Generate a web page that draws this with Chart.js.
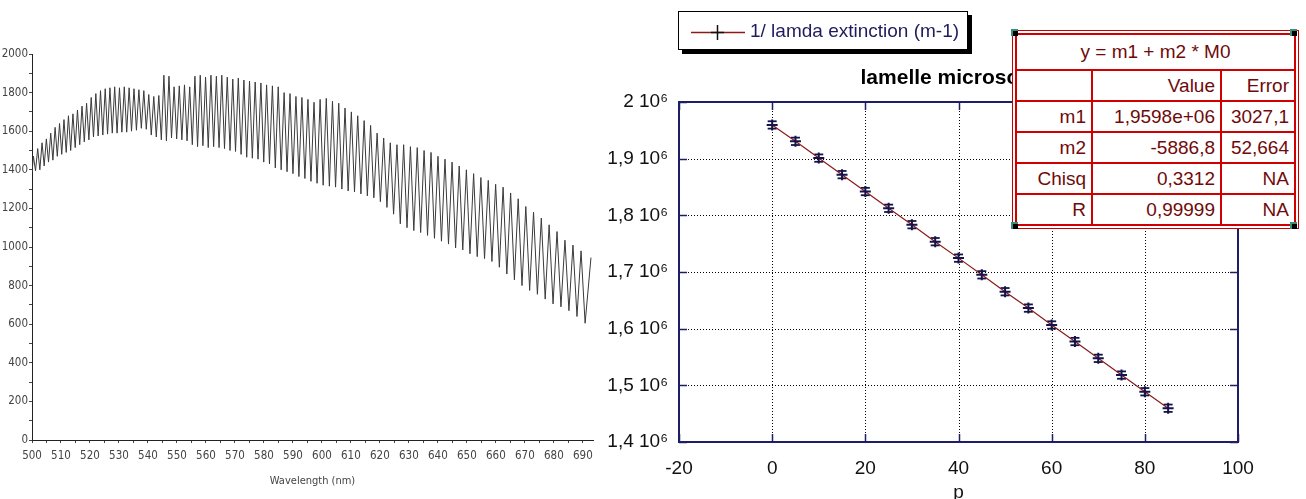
<!DOCTYPE html>
<html>
<head>
<meta charset="utf-8">
<title>Spectrum and extinction fit</title>
<script src="https://cdn.jsdelivr.net/npm/chart.js@4.4.1/dist/chart.umd.min.js"></script>
<style>
    html, body { margin: 0; padding: 0; background: #fff; overflow: hidden; width: 1306px; height: 499px; }
    #leftWrap { position: absolute; left: 0; top: 0; width: 600px; height: 499px; }
    #rightWrap { position: absolute; left: 600px; top: 0; width: 706px; height: 520px; }
    #legend {
        position: absolute; left: 678px; top: 11px; width: 290px; height: 39px;
        border: 1px solid #000; background: #fff; box-shadow: 4px 4px 0 #000;
        font: 19px "Liberation Sans", Arial, sans-serif; color: #1c1c5e;
        box-sizing: border-box; white-space: nowrap;
    }
    #legend svg { position: absolute; left: 12px; top: 12px; }
    #legend span { position: absolute; left: 71px; top: 8px; }
    #plotTitle {
        position: absolute; left: 758px; width: 400px; top: 65px; text-align: center;
        font: bold 21px "Liberation Sans", Arial, sans-serif; color: #000;
    }
    #fitBox {
        position: absolute; left: 1012px; top: 30px; padding: 2px;
        border: 1px solid #c40000; background: #fff;
    }
    #fitBox table {
        border-collapse: collapse; border: 2px solid #d00000;
        font: 19px "Liberation Sans", Arial, sans-serif; color: #700a0a;
    }
    #fitBox td { border: 2px solid #d00000; text-align: right; padding: 0 5px; height: 29px; }
    #fitBox td.head { text-align: center; height: 34px; }
    .handle { position: absolute; width: 7px; height: 7px; background: #000; border-top: 2px solid #3a8f7a; border-left: 2px solid #3a8f7a; box-sizing: border-box; }
</style>
</head>
<body>
<div id="leftWrap"><canvas id="spectrumChart" width="600" height="499"></canvas></div>
<div id="rightWrap"><canvas id="fitChart" width="706" height="520"></canvas></div>

<div id="plotTitle">lamelle microscope</div>

<div id="legend">
    <svg width="56" height="16">
        <line x1="0" y1="8.5" x2="54" y2="8.5" stroke="#8b1a1a" stroke-width="1.5"/>
        <line x1="26.5" y1="1" x2="26.5" y2="16" stroke="#111" stroke-width="1.5"/>
        <line x1="20" y1="8.5" x2="33" y2="8.5" stroke="#111" stroke-width="1.5"/>
    </svg>
    <span>1/ lamda extinction (m-1)</span>
</div>

<div id="fitBox">
    <table>
        <tr><td class="head" colspan="3">y = m1 + m2 * M0</td></tr>
        <tr><td style="width:64px"></td><td style="width:117px">Value</td><td style="width:62px">Error</td></tr>
        <tr><td>m1</td><td>1,9598e+06</td><td>3027,1</td></tr>
        <tr><td>m2</td><td>-5886,8</td><td>52,664</td></tr>
        <tr><td>Chisq</td><td>0,3312</td><td>NA</td></tr>
        <tr><td>R</td><td>0,99999</td><td>NA</td></tr>
    </table>
</div>
<div class="handle" style="left:1011px; top:29px"></div>
<div class="handle" style="left:1290px; top:29px"></div>
<div class="handle" style="left:1011px; top:222px"></div>
<div class="handle" style="left:1290px; top:222px"></div>

<script>
/* ---------- left: transmission spectrum (fringes) ---------- */

// wavelength (nm) of each fringe minimum and the counts read there
const troughNm = [
    500.00, 501.22, 502.71, 504.20, 505.70, 507.21, 508.73, 510.26, 511.80, 513.34,
    514.90, 516.46, 518.04, 519.62, 521.21, 522.82, 524.43, 526.06, 527.69, 529.34,
    531.00, 532.66, 534.33, 536.02, 537.71, 539.42, 541.14, 542.87, 544.61, 546.36,
    548.12, 549.90, 551.69, 553.48, 555.29, 557.11, 558.95, 560.79, 562.65, 564.52,
    566.40, 568.30, 570.20, 572.12, 574.06, 576.00, 577.96, 579.93, 581.91, 583.92,
    585.94, 587.97, 590.01, 592.06, 594.13, 596.22, 598.32, 600.43, 602.57, 604.71,
    606.88, 609.05, 611.24, 613.45, 615.67, 617.91, 620.16, 622.43, 624.72, 627.03,
    629.35, 631.70, 634.05, 636.43, 638.82, 641.23, 643.66, 646.11, 648.58, 651.06,
    653.57, 656.09, 658.64, 661.20, 663.78, 666.39, 669.01, 671.65, 674.32, 677.01,
    679.72, 682.45, 685.20, 687.98, 690.78
];
const troughCounts = [
    1385, 1395, 1400, 1420, 1440, 1450, 1470, 1480, 1490, 1500,
    1515, 1530, 1545, 1555, 1570, 1575, 1580, 1585, 1590, 1590,
    1595, 1595, 1600, 1605, 1615, 1610, 1580, 1570, 1555, 1550,
    1565, 1560, 1555, 1550, 1530, 1520, 1525, 1515, 1520, 1515,
    1510, 1500, 1495, 1480, 1465, 1460, 1455, 1440, 1430, 1410,
    1400, 1390, 1380, 1365, 1355, 1340, 1330, 1320, 1315, 1310,
    1300, 1290, 1285, 1275, 1265, 1255, 1235, 1205, 1170, 1120,
    1100, 1085, 1075, 1060, 1045, 1030, 1015, 995, 985, 965,
    950, 940, 925, 895, 860, 830, 800, 775, 755, 730,
    705, 690, 670, 640, 605
];

// fringe maxima (last entry is where the record stops)
const peakNm = [
    500.49, 501.97, 503.46, 504.95, 506.46, 507.97, 509.50, 511.03, 512.57, 514.12,
    515.68, 517.25, 518.83, 520.42, 522.02, 523.63, 525.25, 526.88, 528.52, 530.17,
    531.83, 533.50, 535.18, 536.87, 538.57, 540.28, 542.01, 543.74, 545.49, 547.24,
    549.01, 550.80, 552.59, 554.39, 556.20, 558.03, 559.87, 561.72, 563.59, 565.46,
    567.35, 569.25, 571.16, 573.09, 575.03, 576.98, 578.95, 580.92, 582.92, 584.93,
    586.96, 588.99, 591.04, 593.10, 595.18, 597.27, 599.38, 601.50, 603.64, 605.80,
    607.97, 610.15, 612.35, 614.56, 616.79, 619.04, 621.30, 623.58, 625.88, 628.19,
    630.53, 632.88, 635.24, 637.63, 640.03, 642.45, 644.89, 647.35, 649.82, 652.32,
    654.83, 657.37, 659.92, 662.49, 665.09, 667.70, 670.33, 672.99, 675.67, 678.37,
    681.09, 683.83, 686.59, 689.38, 692.80
];
const peakCounts = [
    1470, 1510, 1540, 1560, 1590, 1620, 1640, 1660, 1680, 1690,
    1710, 1730, 1745, 1775, 1795, 1810, 1820, 1825, 1830, 1825,
    1830, 1825, 1820, 1815, 1810, 1790, 1780, 1785, 1890, 1885,
    1830, 1835, 1840, 1830, 1885, 1890, 1880, 1890, 1885, 1890,
    1880, 1870, 1875, 1865, 1860, 1855, 1850, 1840, 1835, 1830,
    1800, 1795, 1780, 1775, 1765, 1750, 1765, 1770, 1755, 1745,
    1720, 1700, 1680, 1655, 1630, 1590, 1565, 1540, 1530, 1530,
    1520, 1515, 1500, 1490, 1470, 1455, 1440, 1420, 1400, 1380,
    1360, 1345, 1325, 1310, 1280, 1250, 1210, 1180, 1150, 1115,
    1080, 1035, 1010, 980, 945
];

/* ---------- right: 1/lambda at extinction vs order p ---------- */
const orderP = [0, 5, 10, 15, 20, 25, 30, 35, 40, 45, 50, 55, 60, 65, 70, 75, 80, 85];
const invLambda = [
    1959500, 1930600, 1901000, 1871800, 1842000, 1812400, 1783500, 1753500, 1724500,
    1695000, 1665200, 1636300, 1606500, 1577300, 1547600, 1518100, 1488700, 1459600
];
const invLambdaErr = [
    6500, 6500, 6500, 6500, 6500, 6500, 6500, 6500, 6500,
    6500, 6500, 6500, 6500, 6500, 6500, 6500, 6500, 6500
];

const narrowFont = '"Liberation Sans Narrow", "DejaVu Sans Condensed", "Arial Narrow", sans-serif';
const plainFont = '"Liberation Sans", Arial, sans-serif';

// interleave minima and maxima into one trace
function buildSpectrum() {
    const pts = [];
    troughNm.forEach((nm, i) => {
        pts.push({ x: nm, y: troughCounts[i] });
        if (i < peakNm.length) pts.push({ x: peakNm[i], y: peakCounts[i] });
    });
    return pts;
}

new Chart(document.getElementById('spectrumChart'), {
    type: 'line',
    data: {
        datasets: [{
            data: buildSpectrum(),
            borderColor: '#3a3a3a',
            borderWidth: 1,
            pointRadius: 0,
            tension: 0
        }]
    },
    options: {
        responsive: false,
        animation: false,
        layout: { padding: { left: 0, right: 7, top: 54, bottom: 0 } },
        plugins: { legend: { display: false }, tooltip: { enabled: false } },
        scales: {
            x: {
                type: 'linear',
                min: 500,
                max: 693.5,
                afterBuildTicks: (s) => { s.ticks = s.ticks.filter(t => t.value % 5 === 0); },
                afterFit: (s) => { s.height = 59; },
                ticks: {
                    stepSize: 5, autoSkip: false, includeBounds: false, maxRotation: 0, padding: 6,
                    color: '#444', font: { family: narrowFont, size: 11.5 },
                    callback: (v) => (v % 10 === 0 ? String(v) : '')
                },
                grid: { drawOnChartArea: false, tickLength: 3, color: '#444' },
                border: { color: '#222' },
                title: {
                    display: true, text: 'Wavelength (nm)', color: '#444',
                    font: { family: narrowFont, size: 11 }, padding: { top: 0, bottom: 11 }
                }
            },
            y: {
                min: 0,
                max: 2000,
                afterFit: (s) => { s.width = 32; },
                ticks: {
                    stepSize: 100, autoSkip: false, padding: 1,
                    color: '#444', font: { family: narrowFont, size: 11.5 },
                    callback: (v) => (v % 200 === 0 ? String(v) : '')
                },
                grid: { drawOnChartArea: false, tickLength: 3, color: '#444' },
                border: { color: '#222' }
            }
        }
    }
});

// dotted grid, inward ticks and frame for the fit plot
const frameGrid = {
    id: 'frameGrid',
    beforeDatasetsDraw(chart) {
        const { ctx, chartArea: a, scales: { x, y } } = chart;
        const seg = (x1, y1, x2, y2) => { ctx.beginPath(); ctx.moveTo(x1, y1); ctx.lineTo(x2, y2); ctx.stroke(); };
        ctx.save();
        ctx.lineWidth = 1;
        ctx.strokeStyle = '#000';
        ctx.setLineDash([1, 2]);
        x.ticks.forEach(t => {
            if (t.value <= x.min || t.value >= x.max) return;
            const px = Math.round(x.getPixelForValue(t.value)) + 0.5;
            seg(px, a.top, px, a.bottom);
        });
        y.ticks.forEach(t => {
            if (t.value <= y.min || t.value >= y.max) return;
            const py = Math.round(y.getPixelForValue(t.value)) + 0.5;
            seg(a.left, py, a.right, py);
        });
        ctx.setLineDash([]);
        ctx.strokeStyle = '#1e1e66';
        ctx.lineWidth = 1.5;
        x.ticks.forEach(t => {
            const px = Math.round(x.getPixelForValue(t.value)) + 0.5;
            seg(px, a.bottom, px, a.bottom - 8);
            seg(px, a.top, px, a.top + 8);
        });
        y.ticks.forEach(t => {
            const py = Math.round(y.getPixelForValue(t.value)) + 0.5;
            seg(a.left, py, a.left + 8, py);
            seg(a.right, py, a.right - 8, py);
        });
        ctx.lineWidth = 2;
        ctx.strokeRect(a.left, a.top, a.right - a.left, a.bottom - a.top);
        ctx.restore();
    }
};

new Chart(document.getElementById('fitChart'), {
    type: 'line',
    data: {
        labels: orderP,
        datasets: [{
            label: '1/ lamda extinction (m-1)',
            data: orderP.map((p, i) => ({ x: p, y: invLambda[i] })),
            borderColor: '#8b1a1a',
            borderWidth: 1.2,
            pointStyle: 'cross',
            pointRadius: 5.5,
            pointBorderWidth: 2,
            pointBorderColor: '#14144a',
            tension: 0
        }, {
            label: 'err+',
            data: orderP.map((p, i) => ({ x: p, y: invLambda[i] + invLambdaErr[i] })),
            showLine: false,
            pointStyle: 'line',
            pointRadius: 4.5,
            pointBorderWidth: 1.8,
            pointBorderColor: '#14144a'
        }, {
            label: 'err-',
            data: orderP.map((p, i) => ({ x: p, y: invLambda[i] - invLambdaErr[i] })),
            showLine: false,
            pointStyle: 'line',
            pointRadius: 4.5,
            pointBorderWidth: 1.8,
            pointBorderColor: '#14144a'
        }]
    },
    options: {
        responsive: false,
        animation: false,
        layout: { padding: { left: 0, right: 68, top: 102, bottom: 0 } },
        plugins: { legend: { display: false }, tooltip: { enabled: false } },
        scales: {
            x: {
                type: 'linear',
                min: -20,
                max: 100,
                afterFit: (s) => { s.height = 78; },
                ticks: {
                    stepSize: 20, maxRotation: 0, padding: 15,
                    color: '#111', font: { family: plainFont, size: 19 }
                },
                grid: { display: false, drawTicks: false },
                border: { display: false },
                title: {
                    display: true, text: 'p', color: '#111',
                    font: { family: plainFont, size: 19 }, padding: { top: 0, bottom: 16 }
                }
            },
            y: {
                min: 1400000,
                max: 2000000,
                afterFit: (s) => { s.width = 79; },
                ticks: {
                    stepSize: 100000, padding: 11,
                    color: '#111', font: { family: plainFont, size: 19 },
                    callback: (v) => String(v / 1e6).replace('.', ',') + ' 10\u2076'
                },
                grid: { display: false, drawTicks: false },
                border: { display: false }
            }
        }
    },
    plugins: [frameGrid]
});
</script>
</body>
</html>
